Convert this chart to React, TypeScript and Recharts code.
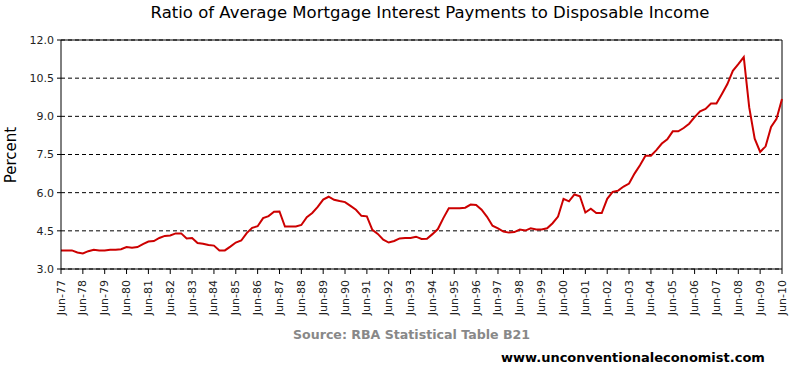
import React from 'react'
import { LineChart, Line, XAxis, YAxis, CartesianGrid, ReferenceLine } from 'recharts'

// quarterly data, Jun-77 .. Jun-10
const years = ['77', '78', '79', '80', '81', '82', '83', '84', '85', '86', '87', '88', '89', '90', '91', '92', '93', '94', '95', '96', '97', '98', '99', '00', '01', '02', '03', '04', '05', '06', '07', '08', '09', '10']
const quarters = ['Mar', 'Jun', 'Sep', 'Dec']

const ratio = [
  3.73, 3.73, 3.73,
  3.65, 3.61, 3.70, 3.76,
  3.73, 3.73, 3.76, 3.76,
  3.78, 3.86, 3.84, 3.86,
  3.98, 4.08, 4.10, 4.22,
  4.30, 4.32, 4.40, 4.40,
  4.20, 4.22, 4.02, 3.99,
  3.94, 3.92, 3.73, 3.73,
  3.88, 4.04, 4.12, 4.41,
  4.62, 4.68, 5.00, 5.08,
  5.25, 5.26, 4.67, 4.67,
  4.67, 4.73, 5.04, 5.20,
  5.44, 5.73, 5.84, 5.72,
  5.67, 5.63, 5.48, 5.33,
  5.09, 5.07, 4.54, 4.38,
  4.15, 4.04, 4.10, 4.20,
  4.22, 4.22, 4.27, 4.18,
  4.19, 4.37, 4.57, 5.00,
  5.39, 5.39, 5.39, 5.41,
  5.53, 5.52, 5.33, 5.05,
  4.70, 4.60, 4.47, 4.43,
  4.45, 4.55, 4.51, 4.60,
  4.55, 4.55, 4.60, 4.80,
  5.06, 5.76, 5.66, 5.93,
  5.86, 5.22, 5.37, 5.20,
  5.20, 5.76, 6.03, 6.08,
  6.24, 6.36, 6.75, 7.08,
  7.45, 7.45, 7.67, 7.93,
  8.10, 8.41, 8.41, 8.54,
  8.71, 8.97, 9.20, 9.29,
  9.50, 9.50, 9.88, 10.27,
  10.79, 11.05, 11.33, 9.35,
  8.12, 7.60, 7.82, 8.58,
  8.90, 9.68,
]

const yTicks = [3, 4.5, 6, 7.5, 9, 10.5, 12]

// build quarter labels from Jun-77 on
const labels: string[] = []
years.forEach((yr) => quarters.forEach((q) => labels.push(`${q}-${yr}`)))
const startIdx = labels.indexOf('Jun-77')
const data = ratio.map((v, i) => ({ label: labels[startIdx + i], ratio: v }))

const font = '"DejaVu Sans", Verdana, sans-serif'

const XTick = (props: any) => {
  const { x, y, payload } = props
  const ty = y + 4
  return (
    <text
      x={x}
      y={ty}
      transform={`rotate(-90, ${x}, ${ty})`}
      textAnchor="end"
      dominantBaseline="central"
      fontSize={11}
      fontFamily={font}
      fill="#222"
    >
      {payload.value}
    </text>
  )
}

export default function App() {
  return (
    <div style={{ position: 'absolute', left: 0, top: 0, width: 793, height: 379, background: '#fff', fontFamily: font }}>
      <div style={{ position: 'absolute', left: 0, top: 3, width: 860, textAlign: 'center', fontSize: 16.5, color: '#000' }}>
        Ratio of Average Mortgage Interest Payments to Disposable Income
      </div>

      <LineChart width={793} height={379} data={data} margin={{ top: 40, right: 11, left: 11, bottom: 60 }}>
        <CartesianGrid horizontal vertical={false} stroke="#000" strokeDasharray="4 3" />
        <XAxis
          dataKey="label"
          interval={3}
          height={50}
          tick={<XTick />}
          tickSize={5}
          tickMargin={2}
          axisLine={{ stroke: '#000' }}
          tickLine={{ stroke: '#000' }}
        />
        <YAxis
          domain={[3, 12]}
          ticks={yTicks}
          width={50}
          tickFormatter={(v: number) => v.toFixed(1)}
          tickSize={4}
          tickMargin={3}
          tick={{ fontSize: 11, fontFamily: font, fill: '#222' }}
          axisLine={{ stroke: '#000' }}
          tickLine={{ stroke: '#000' }}
        />
        <ReferenceLine y={12} stroke="#000" />
        <ReferenceLine x="Jun-10" stroke="#000" />
        <Line
          type="linear"
          dataKey="ratio"
          stroke="#cc0000"
          strokeWidth={2}
          dot={false}
          isAnimationActive={false}
        />
      </LineChart>

      <svg width={30} height={379} style={{ position: 'absolute', left: 0, top: 0 }}>
        <text x={11} y={155} transform="rotate(-90, 11, 155)" textAnchor="middle" dominantBaseline="central" fontSize={15} fontFamily={font} fill="#000">
          Percent
        </text>
      </svg>

      <div style={{ position: 'absolute', left: 293, top: 327, fontSize: 12.6, fontWeight: 'bold', color: '#888' }}>
        Source: RBA Statistical Table B21
      </div>
      <div style={{ position: 'absolute', left: 501, top: 350, fontSize: 13, fontWeight: 'bold', color: '#000' }}>
        www.unconventionaleconomist.com
      </div>
    </div>
  )
}
